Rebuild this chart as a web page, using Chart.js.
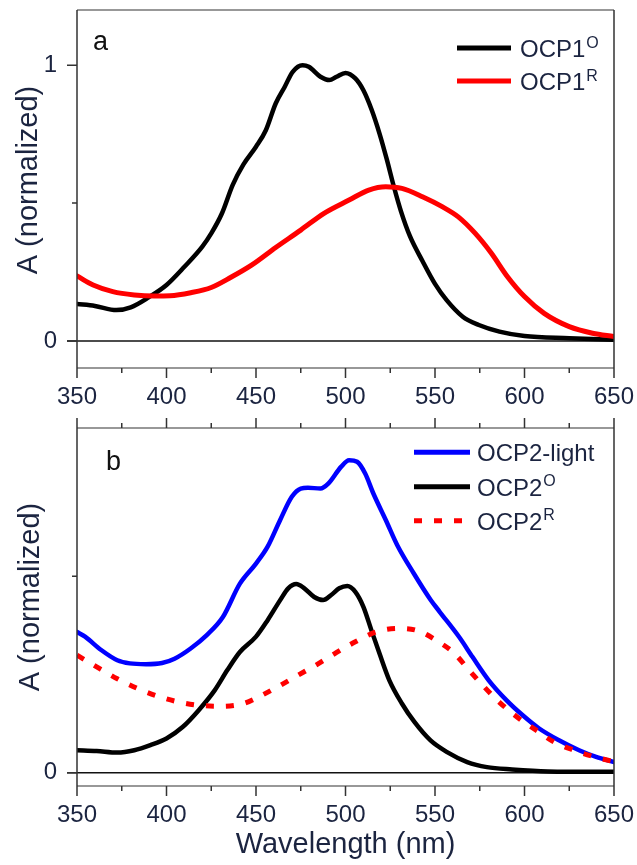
<!DOCTYPE html>
<html><head><meta charset="utf-8">
<script src="https://cdn.jsdelivr.net/npm/chart.js@4.4.0/dist/chart.umd.min.js"></script>
<style>
html,body{margin:0;padding:0;background:#fff;}
#wrap{position:relative;width:637px;height:865px;overflow:hidden;background:#fff;}
canvas{position:absolute;left:0;}
#ca{top:0;width:637px;height:415px;}
#cb{top:415px;width:637px;height:450px;}
</style></head><body>
<div id="wrap"><canvas id="ca" width="637" height="415"></canvas><canvas id="cb" width="637" height="450"></canvas></div>
<script>
// ---------- data ----------
const xMajorTicks = [350, 400, 450, 500, 550, 600, 650];
const xMinorTicks = [375, 425, 475, 525, 575, 625];
const yTicksA = [0, 1];
const yTicksB = [0];
const yMinorTicks = [0.5];

const ocp1O_wl = [350, 360, 372, 380, 390, 400, 410, 420, 425, 431, 437, 443, 450, 455.5, 461, 466, 470.5, 476, 479.5, 486, 491, 495, 500, 505.5, 510, 514.5, 519, 523, 527, 531, 536, 543, 550, 556.5, 565.5, 574.5, 586, 600, 625, 650];
const ocp1O_abs = [0.134, 0.127, 0.112, 0.122, 0.158, 0.203, 0.269, 0.342, 0.390, 0.463, 0.566, 0.640, 0.704, 0.764, 0.861, 0.921, 0.976, 1.0, 0.994, 0.958, 0.946, 0.958, 0.972, 0.952, 0.909, 0.840, 0.752, 0.660, 0.560, 0.470, 0.380, 0.290, 0.207, 0.148, 0.088, 0.058, 0.034, 0.018, 0.010, 0.004];

const ocp1R_wl = [350, 359, 370, 382, 393, 402, 413.5, 425, 436, 447.5, 461, 475, 488, 502, 513, 522.5, 531.5, 543, 554, 563, 572.5, 581.5, 590.5, 600, 611, 625, 638, 650];
const ocp1R_abs = [0.236, 0.203, 0.179, 0.167, 0.163, 0.164, 0.175, 0.194, 0.231, 0.275, 0.339, 0.402, 0.463, 0.511, 0.547, 0.559, 0.553, 0.523, 0.487, 0.450, 0.390, 0.318, 0.233, 0.161, 0.100, 0.052, 0.028, 0.016];

const ocp2L_wl = [350, 354.5, 363.5, 372.5, 379.5, 388.5, 397.5, 404.5, 413.5, 422.5, 431.5, 441, 450, 456.5, 463.5, 470, 475, 479, 486, 490.5, 497.5, 502, 506.5, 511, 515.5, 522.5, 529, 538, 547.5, 552.5, 563.5, 571, 580, 590, 599, 608, 619, 630.5, 640, 650];
const ocp2L_abs = [0.358, 0.346, 0.312, 0.286, 0.278, 0.276, 0.279, 0.290, 0.316, 0.350, 0.396, 0.481, 0.532, 0.575, 0.643, 0.702, 0.723, 0.725, 0.723, 0.736, 0.778, 0.795, 0.791, 0.761, 0.711, 0.643, 0.578, 0.508, 0.440, 0.410, 0.345, 0.294, 0.235, 0.184, 0.146, 0.113, 0.083, 0.057, 0.040, 0.027];

const ocp2O_wl = [350, 361, 372.5, 382, 391, 400, 409, 418, 427, 434, 441, 450, 456.5, 463.5, 468, 472.5, 477, 482.5, 487.5, 492, 496.5, 501, 505.5, 510, 514.5, 519, 524.5, 531.5, 538.5, 547.5, 556.5, 568, 579, 593, 613, 650];
const ocp2O_abs = [0.057, 0.055, 0.051, 0.057, 0.070, 0.087, 0.116, 0.159, 0.210, 0.261, 0.307, 0.346, 0.388, 0.439, 0.469, 0.480, 0.469, 0.447, 0.439, 0.452, 0.469, 0.475, 0.460, 0.422, 0.362, 0.303, 0.235, 0.176, 0.129, 0.082, 0.053, 0.027, 0.014, 0.008, 0.003, 0.002];

const ocp2R_wl = [350, 361, 372.5, 384, 395.5, 406.5, 419, 430.5, 443, 452, 463.5, 473.5, 484, 494, 505.5, 517, 529, 540.5, 552.3, 560.7, 569, 577.5, 586, 596, 606.5, 616.5, 627.7, 640, 650];
const ocp2R_abs = [0.299, 0.269, 0.239, 0.214, 0.194, 0.180, 0.171, 0.169, 0.176, 0.194, 0.222, 0.248, 0.275, 0.303, 0.333, 0.358, 0.367, 0.361, 0.332, 0.304, 0.261, 0.218, 0.179, 0.141, 0.108, 0.078, 0.057, 0.039, 0.028];

const legendA = [["OCP1", "O"], ["OCP1", "R"]];
const legendB = [["OCP2-light", ""], ["OCP2", "O"], ["OCP2", "R"]];
const xTitle = "Wavelength (nm)";
const yTitle = "A (normalized)";

// ---------- helpers ----------
const FONT = "'Liberation Sans', Arial, sans-serif";
const TXT = '#1b2440';
function pts(wl, ab) { return wl.map((w, i) => ({x: w, y: ab[i]})); }

const decor = {
  id: 'decor',
  beforeDatasetsDraw(chart, args, o) {
    const {ctx, chartArea: a, scales: {y}} = chart;
    const y0 = y.getPixelForValue(0);
    ctx.save();
    ctx.strokeStyle = '#111'; ctx.lineWidth = 1.5;
    ctx.beginPath(); ctx.moveTo(a.left - 10, y0); ctx.lineTo(a.right, y0); ctx.stroke();
    ctx.restore();
  },
  afterDatasetsDraw(chart, args, o) {
    const {ctx, chartArea: a, scales: {x, y}} = chart;
    ctx.save();
    ctx.lineWidth = 1.5;
    ctx.strokeStyle = '#777';
    ctx.beginPath(); ctx.moveTo(a.left, a.top); ctx.lineTo(a.right, a.top);
    ctx.moveTo(a.left, a.bottom); ctx.lineTo(a.right, a.bottom); ctx.stroke();
    ctx.strokeStyle = '#333';
    ctx.beginPath(); ctx.moveTo(a.left, a.top); ctx.lineTo(a.left, a.bottom);
    ctx.moveTo(a.right, a.top); ctx.lineTo(a.right, a.bottom); ctx.stroke();
    ctx.strokeStyle = '#333';
    ctx.beginPath();
    xMajorTicks.forEach(v => { const px = x.getPixelForValue(v); ctx.moveTo(px, a.bottom); ctx.lineTo(px, a.bottom + 10);
      if (o.topTicks) { ctx.moveTo(px, a.top); ctx.lineTo(px, a.top - 10); } });
    xMinorTicks.forEach(v => { const px = x.getPixelForValue(v); ctx.moveTo(px, a.bottom); ctx.lineTo(px, a.bottom + 5);
      if (o.topTicks) { ctx.moveTo(px, a.top); ctx.lineTo(px, a.top - 5); } });
    o.yTicks.forEach(v => { const py = y.getPixelForValue(v); ctx.moveTo(a.left, py); ctx.lineTo(a.left - 10, py); });
    yMinorTicks.forEach(v => { const py = y.getPixelForValue(v); ctx.moveTo(a.left, py); ctx.lineTo(a.left - 5, py); });
    ctx.stroke();
    ctx.restore();
  },
  afterDraw(chart, args, o) {
    const {ctx, chartArea: a} = chart;
    ctx.save();
    ctx.fillStyle = '#111';
    ctx.font = `27px ${FONT}`;
    ctx.textAlign = 'left'; ctx.textBaseline = 'alphabetic';
    ctx.fillText(o.letter, o.letterX, o.letterY);
    ctx.fillStyle = TXT;
    ctx.font = `29px ${FONT}`;
    ctx.save();
    ctx.translate(o.yTitleX, o.yTitleY); ctx.rotate(-Math.PI / 2);
    ctx.textAlign = 'center'; ctx.textBaseline = 'middle';
    ctx.fillText(yTitle, 0, 0);
    ctx.restore();
    if (o.xTitle) {
      ctx.textAlign = 'center'; ctx.textBaseline = 'middle';
      ctx.fillText(xTitle, (a.left + a.right) / 2, o.xTitleY);
    }
    const ds = chart.data.datasets;
    o.legend.forEach((lab, i) => {
      const d = ds[i];
      const yy = o.legY[i];
      ctx.save();
      ctx.strokeStyle = d.borderColor; ctx.lineWidth = 5;
      ctx.lineCap = 'butt';
      ctx.setLineDash(d.borderDash || []);
      ctx.beginPath(); ctx.moveTo(o.legX1, yy); ctx.lineTo(o.legX2, yy); ctx.stroke();
      ctx.restore();
      ctx.fillStyle = TXT;
      ctx.textAlign = 'left'; ctx.textBaseline = 'alphabetic';
      ctx.font = `24px ${FONT}`;
      ctx.fillText(lab[0], o.legTX, yy + 9);
      const w = ctx.measureText(lab[0]).width;
      if (lab[1]) {
        ctx.font = `16px ${FONT}`;
        ctx.fillText(lab[1], o.legTX + w + 1, yy - 0.5);
      }
    });
    ctx.restore();
  }
};

function makeOptions(c) {
  return {
    responsive: false, animation: false, devicePixelRatio: 1,
    layout: {padding: {left: 0, right: 23, top: c.top, bottom: 0}},
    plugins: {legend: {display: false}, tooltip: {enabled: false}, decor: c.decor},
    elements: {point: {radius: 0}},
    scales: {
      x: {
        type: 'linear', min: 350, max: 650,
        afterBuildTicks: s => { s.ticks = xMajorTicks.map(v => ({value: v})); },
        afterFit: s => { s.height = c.xh; s.paddingLeft = 0; s.paddingRight = 0; },
        grid: {display: true, drawOnChartArea: false, drawTicks: true, tickLength: 10, color: 'rgba(0,0,0,0)'},
        border: {display: false},
        ticks: {padding: 5, color: TXT, font: {family: FONT, size: 24}, maxRotation: 0, minRotation: 0, autoSkip: false, callback: v => String(v)}
      },
      y: {
        type: 'linear', min: c.ymin, max: c.ymax,
        afterBuildTicks: s => { s.ticks = c.yTicks.map(v => ({value: v})); },
        afterFit: s => { s.width = 77; s.paddingTop = 0; s.paddingBottom = 0; },
        grid: {display: true, drawOnChartArea: false, drawTicks: true, tickLength: 10, color: 'rgba(0,0,0,0)'},
        border: {display: false},
        ticks: {padding: 10, color: TXT, font: {family: FONT, size: 24}, autoSkip: false, callback: v => String(v)}
      }
    }
  };
}

const lineBase = {pointRadius: 0, fill: false, cubicInterpolationMode: 'monotone', borderCapStyle: 'round', borderJoinStyle: 'round'};

new Chart(document.getElementById('ca'), {
  type: 'line',
  data: {datasets: [
    Object.assign({}, lineBase, {label: 'OCP1O', data: pts(ocp1O_wl, ocp1O_abs), borderColor: '#000000', borderWidth: 4.5, order: 1}),
    Object.assign({}, lineBase, {label: 'OCP1R', data: pts(ocp1R_wl, ocp1R_abs), borderColor: '#ff0000', borderWidth: 5, order: 0})
  ]},
  options: makeOptions({top: 10, xh: 47, ymin: -0.098, ymax: 1.2, yTicks: yTicksA,
    decor: {topTicks: false, yTicks: yTicksA, letter: 'a', letterX: 93, letterY: 50, yTitleX: 29, yTitleY: 180,
      xTitle: false, legend: legendA, legY: [48, 81], legX1: 457, legX2: 511, legTX: 520}}),
  plugins: [decor]
});

new Chart(document.getElementById('cb'), {
  type: 'line',
  data: {datasets: [
    Object.assign({}, lineBase, {label: 'OCP2-light', data: pts(ocp2L_wl, ocp2L_abs), borderColor: '#0000ff', borderWidth: 4.5, order: 2}),
    Object.assign({}, lineBase, {label: 'OCP2O', data: pts(ocp2O_wl, ocp2O_abs), borderColor: '#000000', borderWidth: 4.5, order: 1}),
    Object.assign({}, lineBase, {label: 'OCP2R', data: pts(ocp2R_wl, ocp2R_abs), borderColor: '#ff0000', borderWidth: 5, borderDash: [8, 12], borderCapStyle: 'butt', order: 0})
  ]},
  options: makeOptions({top: 13, xh: 79, ymin: -0.034, ymax: 0.877, yTicks: yTicksB,
    decor: {topTicks: true, yTicks: yTicksB, letter: 'b', letterX: 106, letterY: 55, yTitleX: 31, yTitleY: 182,
      xTitle: true, xTitleY: 430, legend: legendB, legY: [37.3, 71.7, 105.7], legX1: 414, legX2: 470, legTX: 477}}),
  plugins: [decor]
});
</script></body></html>
